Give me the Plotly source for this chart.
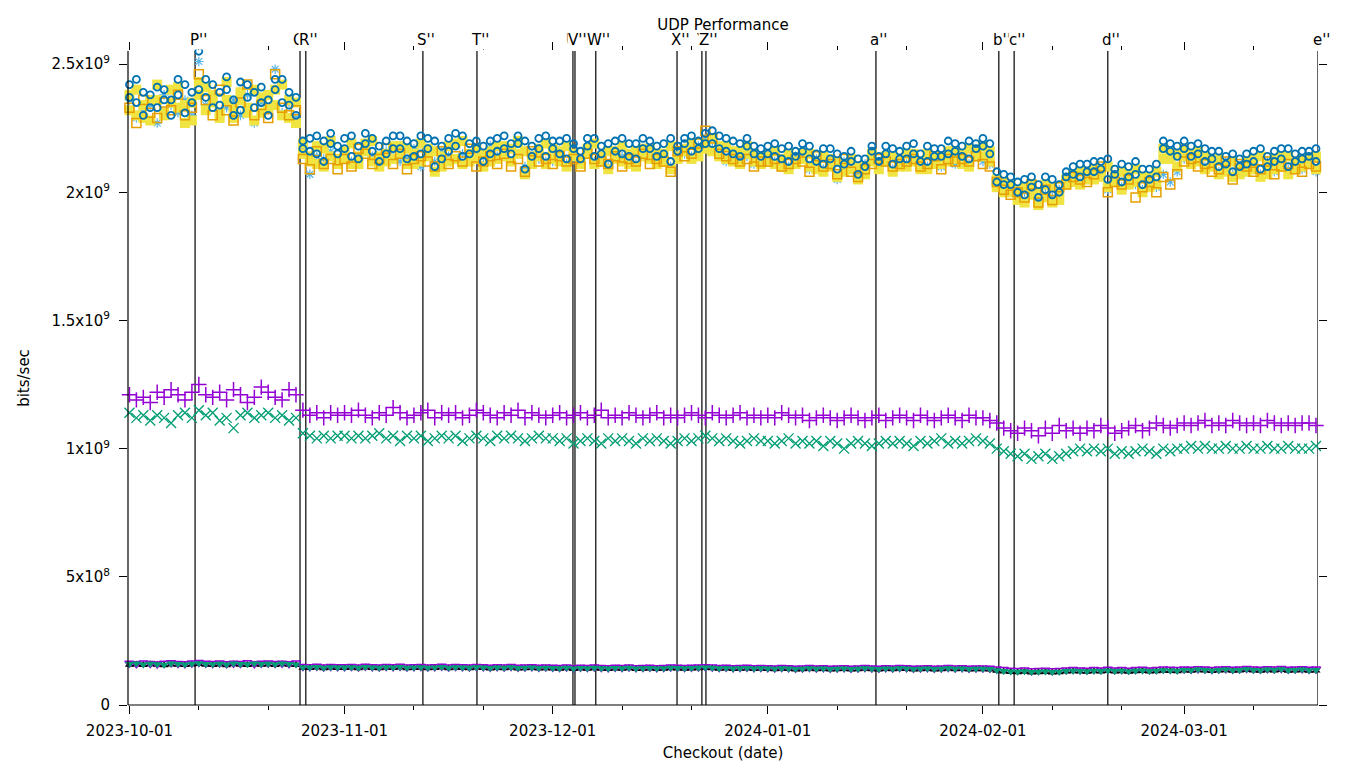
import pandas as pd
import plotly.graph_objects as go

# ---- data -------------------------------------------------------------
dates = pd.date_range("2023-10-01", "2024-03-20", freq="D")

# top cluster (units of 1e9 bits/sec)
lightblue_star = [
    2.36,2.29,2.32,2.34,2.27,2.38,2.34,2.31,2.36,2.30,2.51,2.34,2.37,2.31,2.33,2.36,2.30,2.38,2.27,2.35,2.32,2.48,2.31,2.35,2.29,2.17,2.07,2.14,2.13,2.16,2.12,
    2.15,2.12,2.13,2.17,2.14,2.11,2.16,2.14,2.12,2.13,2.17,2.10,2.15,2.12,2.16,2.14,2.13,2.15,2.12,2.14,2.11,2.18,2.14,2.16,2.12,2.20,2.10,2.15,2.13,2.12,
    2.12,2.15,2.11,2.14,2.13,2.16,2.12,2.13,2.10,2.15,2.14,2.12,2.11,2.16,2.14,2.12,2.14,2.10,2.15,2.15,2.14,2.18,2.21,2.17,2.16,2.12,2.15,2.13,2.14,2.11,2.13,
    2.13,2.12,2.11,2.10,2.14,2.13,2.09,2.13,2.09,2.12,2.05,2.12,2.10,2.07,2.11,2.13,2.12,2.13,2.09,2.12,2.11,2.14,2.11,2.10,2.12,2.10,2.14,2.11,2.14,2.11,2.15,
    2.12,2.11,2.03,2.03,2.01,1.98,2.00,2.01,1.97,2.02,1.98,2.01,2.04,2.05,2.04,2.06,2.06,2.08,2.01,2.05,2.02,2.06,2.03,2.01,2.05,2.02,2.07,2.04,2.08,
    2.13,2.12,2.13,2.10,2.11,2.08,2.12,2.07,2.10,2.09,2.11,2.07,2.12,2.08,2.11,2.09,2.10,2.09,2.12,2.08,
]
orange_square = [
    2.33,2.27,2.36,2.31,2.29,2.35,2.32,2.38,2.30,2.33,2.46,2.36,2.30,2.40,2.32,2.28,2.35,2.42,2.30,2.34,2.29,2.46,2.33,2.30,2.32,2.13,2.09,2.16,2.11,2.13,2.09,
    2.13,2.10,2.17,2.15,2.11,2.13,2.17,2.11,2.15,2.09,2.13,2.14,2.12,2.10,2.16,2.11,2.14,2.12,2.17,2.10,2.12,2.14,2.11,2.15,2.10,2.13,2.08,2.16,2.12,2.13,
    2.11,2.14,2.12,2.13,2.10,2.15,2.13,2.12,2.11,2.14,2.10,2.13,2.12,2.15,2.11,2.13,2.12,2.08,2.16,2.14,2.15,2.19,2.24,2.21,2.15,2.14,2.13,2.12,2.13,2.10,2.12,
    2.12,2.13,2.10,2.11,2.13,2.12,2.08,2.14,2.10,2.11,2.07,2.13,2.08,2.06,2.09,2.11,2.13,2.12,2.10,2.11,2.12,2.13,2.10,2.11,2.14,2.09,2.13,2.12,2.13,2.12,2.14,
    2.11,2.10,2.04,2.01,1.99,2.00,1.98,2.03,1.96,2.01,1.97,2.02,2.03,2.06,2.05,2.04,2.07,2.10,2.00,2.04,2.03,2.05,1.98,2.02,2.04,2.00,2.06,2.03,2.07,
    2.12,2.13,2.10,2.11,2.08,2.09,2.12,2.05,2.11,2.10,2.08,2.09,2.12,2.07,2.10,2.11,2.09,2.08,2.11,2.10,
]
yellow_square = [
    2.38,2.30,2.34,2.28,2.36,2.31,2.40,2.33,2.27,2.35,2.43,2.32,2.38,2.29,2.36,2.33,2.39,2.31,2.28,2.37,2.33,2.40,2.30,2.36,2.27,2.15,2.12,2.18,2.10,2.14,2.11,
    2.16,2.11,2.14,2.19,2.12,2.10,2.15,2.13,2.18,2.11,2.15,2.12,2.17,2.08,2.14,2.12,2.19,2.11,2.15,2.13,2.10,2.16,2.13,2.18,2.12,2.15,2.07,2.14,2.17,2.11,
    2.13,2.16,2.10,2.15,2.12,2.17,2.11,2.14,2.09,2.16,2.12,2.15,2.10,2.17,2.13,2.11,2.15,2.09,2.14,2.17,2.13,2.17,2.19,2.16,2.18,2.13,2.16,2.11,2.15,2.12,2.14,
    2.14,2.11,2.13,2.09,2.12,2.15,2.10,2.12,2.08,2.13,2.06,2.11,2.09,2.05,2.10,2.12,2.11,2.14,2.08,2.13,2.10,2.15,2.12,2.09,2.13,2.11,2.16,2.13,2.15,2.10,2.16,
    2.14,2.12,2.02,2.04,2.00,1.97,2.02,1.99,1.95,2.03,1.96,2.00,2.05,2.07,2.03,2.08,2.05,2.09,2.02,2.06,2.01,2.07,2.04,2.00,2.06,2.03,2.13,2.15,2.10,
    2.14,2.11,2.16,2.09,2.13,2.07,2.11,2.06,2.10,2.08,2.13,2.06,2.11,2.09,2.14,2.07,2.12,2.10,2.13,2.09,
]
yellow_square_run2 = [
    2.32,2.40,2.29,2.36,2.42,2.30,2.35,2.41,2.34,2.28,2.38,2.41,2.35,2.31,2.43,2.29,2.36,2.33,2.40,2.31,2.38,2.34,2.42,2.29,2.35,2.19,2.14,2.11,2.17,2.20,2.13,
    2.13,2.19,2.11,2.16,2.20,2.14,2.12,2.18,2.15,2.17,2.11,2.19,2.14,2.16,2.10,2.18,2.13,2.20,2.12,2.17,2.15,2.12,2.18,2.14,2.17,2.20,2.16,2.11,2.14,2.19,
    2.17,2.12,2.18,2.14,2.11,2.15,2.19,2.12,2.16,2.13,2.18,2.11,2.16,2.14,2.17,2.15,2.12,2.18,2.13,2.16,2.19,2.14,2.17,2.21,2.14,2.18,2.12,2.16,2.18,2.15,2.11,
    2.12,2.16,2.10,2.15,2.11,2.13,2.15,2.09,2.14,2.10,2.12,2.08,2.13,2.10,2.07,2.15,2.09,2.12,2.14,2.10,2.15,2.12,2.09,2.15,2.11,2.14,2.12,2.16,2.11,2.17,2.14,
    2.18,2.16,2.05,2.00,2.03,2.01,1.96,2.03,2.00,1.98,2.02,1.97,2.03,2.04,2.08,2.05,2.09,2.06,2.10,2.04,2.08,2.03,2.09,2.06,2.02,2.08,2.17,2.13,2.15,
    2.17,2.15,2.12,2.14,2.10,2.13,2.08,2.12,2.07,2.12,2.09,2.14,2.07,2.13,2.10,2.14,2.09,2.13,2.11,2.14,
]
blue_circle = [
    2.42,2.35,2.30,2.38,2.33,2.40,2.36,2.44,2.31,2.39,2.55,2.37,2.42,2.34,2.40,2.30,2.43,2.37,2.33,2.41,2.36,2.44,2.35,2.39,2.30,2.20,2.16,2.22,2.12,2.19,2.15,
    2.21,2.14,2.18,2.23,2.16,2.12,2.20,2.17,2.22,2.13,2.19,2.15,2.21,2.10,2.18,2.16,2.23,2.14,2.19,2.17,2.12,2.20,2.16,2.22,2.15,2.19,2.09,2.18,2.21,2.14,
    2.17,2.20,2.13,2.19,2.16,2.21,2.14,2.18,2.11,2.20,2.15,2.19,2.13,2.21,2.17,2.14,2.19,2.12,2.18,2.21,2.16,2.20,2.23,2.19,2.22,2.16,2.20,2.14,2.18,2.15,2.17,
    2.18,2.14,2.17,2.12,2.16,2.19,2.13,2.15,2.11,2.17,2.09,2.14,2.12,2.07,2.13,2.16,2.14,2.18,2.11,2.16,2.13,2.19,2.15,2.12,2.17,2.14,2.20,2.16,2.18,2.13,2.19,
    2.18,2.15,2.04,2.07,2.03,2.00,2.05,2.02,1.98,2.06,1.99,2.03,2.08,2.10,2.06,2.11,2.08,2.12,2.05,2.09,2.04,2.10,2.07,2.03,2.09,2.06,2.17,2.19,2.14,
    2.17,2.14,2.19,2.12,2.16,2.10,2.14,2.08,2.13,2.11,2.16,2.09,2.14,2.12,2.17,2.10,2.15,2.13,2.16,2.12,
]
blue_circle_run2 = [
    2.37,2.44,2.39,2.33,2.41,2.36,2.30,2.38,2.42,2.35,2.40,2.44,2.33,2.39,2.45,2.36,2.32,2.42,2.39,2.35,2.30,2.40,2.44,2.34,2.37,2.17,2.21,2.15,2.20,2.23,2.18,
    2.17,2.22,2.13,2.19,2.21,2.18,2.15,2.22,2.17,2.20,2.14,2.22,2.17,2.20,2.13,2.21,2.18,2.22,2.15,2.20,2.18,2.15,2.21,2.17,2.19,2.22,2.20,2.14,2.17,2.22,
    2.20,2.15,2.21,2.17,2.13,2.18,2.21,2.15,2.19,2.16,2.21,2.14,2.19,2.17,2.20,2.18,2.15,2.21,2.16,2.19,2.22,2.17,2.19,2.24,2.17,2.21,2.15,2.19,2.21,2.18,2.14,
    2.15,2.19,2.13,2.18,2.14,2.16,2.18,2.12,2.17,2.13,2.15,2.11,2.16,2.13,2.10,2.18,2.12,2.15,2.17,2.13,2.18,2.15,2.12,2.18,2.14,2.17,2.15,2.19,2.14,2.20,2.17,
    2.21,2.19,2.08,2.03,2.06,2.04,1.99,2.06,2.03,2.01,2.05,2.00,2.06,2.07,2.11,2.08,2.12,2.09,2.13,2.07,2.11,2.06,2.12,2.09,2.05,2.11,2.20,2.16,2.18,
    2.20,2.18,2.15,2.17,2.13,2.16,2.11,2.15,2.10,2.15,2.12,2.17,2.10,2.16,2.13,2.17,2.12,2.16,2.14,2.17,
]

# middle band (units of 1e9 bits/sec)
purple_plus = [
    1.21,1.19,1.20,1.18,1.22,1.20,1.23,1.21,1.19,1.22,1.25,1.21,1.20,1.22,1.19,1.23,1.21,1.18,1.20,1.24,1.22,1.20,1.19,1.23,1.21,1.15,1.13,1.14,1.12,1.14,1.13,
    1.14,1.13,1.15,1.13,1.12,1.14,1.13,1.16,1.14,1.12,1.13,1.14,1.15,1.12,1.14,1.13,1.14,1.12,1.13,1.15,1.14,1.13,1.12,1.14,1.13,1.15,1.12,1.14,1.13,1.12,
    1.13,1.14,1.12,1.13,1.14,1.12,1.13,1.15,1.12,1.13,1.12,1.14,1.13,1.12,1.13,1.14,1.12,1.13,1.12,1.13,1.14,1.13,1.12,1.14,1.13,1.12,1.13,1.14,1.12,1.13,1.12,
    1.13,1.12,1.14,1.13,1.12,1.13,1.11,1.12,1.13,1.12,1.11,1.12,1.13,1.12,1.11,1.12,1.13,1.11,1.12,1.13,1.12,1.11,1.13,1.12,1.11,1.12,1.13,1.12,1.11,1.13,1.12,
    1.12,1.11,1.10,1.08,1.07,1.06,1.08,1.07,1.05,1.08,1.06,1.09,1.07,1.08,1.06,1.08,1.07,1.09,1.08,1.06,1.07,1.08,1.09,1.07,1.08,1.10,1.09,1.08,1.09,
    1.10,1.09,1.10,1.11,1.09,1.10,1.09,1.11,1.10,1.09,1.10,1.09,1.11,1.10,1.09,1.10,1.09,1.10,1.10,1.09,
]
green_x = [
    1.14,1.12,1.13,1.11,1.13,1.12,1.10,1.13,1.14,1.12,1.15,1.13,1.14,1.11,1.12,1.08,1.13,1.14,1.12,1.13,1.14,1.12,1.13,1.11,1.12,1.06,1.05,1.04,1.05,1.04,1.05,
    1.05,1.04,1.05,1.04,1.05,1.06,1.04,1.05,1.03,1.05,1.04,1.05,1.03,1.04,1.05,1.04,1.05,1.03,1.04,1.05,1.04,1.03,1.05,1.04,1.05,1.04,1.03,1.04,1.05,1.04,
    1.04,1.03,1.04,1.02,1.03,1.04,1.03,1.02,1.04,1.03,1.04,1.03,1.02,1.04,1.03,1.04,1.03,1.02,1.03,1.04,1.03,1.04,1.05,1.04,1.03,1.04,1.03,1.02,1.03,1.04,1.03,
    1.03,1.02,1.03,1.04,1.02,1.03,1.02,1.03,1.01,1.03,1.02,1.00,1.02,1.03,1.02,1.01,1.02,1.03,1.02,1.03,1.02,1.01,1.03,1.02,1.03,1.04,1.02,1.03,1.02,1.03,1.04,
    1.03,1.02,1.00,0.99,0.98,0.97,0.98,0.96,0.97,0.98,0.96,0.97,0.98,0.99,1.00,0.99,1.00,0.99,1.00,0.98,0.99,0.98,0.99,1.00,0.99,0.98,1.00,0.99,1.00,
    1.00,1.01,1.00,1.01,1.00,1.00,1.01,1.00,1.00,1.01,1.00,1.00,1.01,1.00,1.00,1.01,1.00,1.00,1.00,1.01,
]

# bottom band (units of 1e8 bits/sec)
black_low = [
    1.57,1.58,1.56,1.59,1.57,1.55,1.58,1.57,1.56,1.58,1.60,1.57,1.56,1.58,1.55,1.59,1.57,1.56,1.58,1.57,1.58,1.56,1.59,1.57,1.56,1.45,1.44,1.46,1.43,1.45,1.44,
    1.44,1.45,1.43,1.46,1.44,1.43,1.45,1.44,1.46,1.43,1.44,1.45,1.43,1.44,1.46,1.43,1.45,1.44,1.43,1.45,1.44,1.42,1.44,1.43,1.45,1.42,1.43,1.44,1.42,1.43,
    1.42,1.41,1.43,1.40,1.42,1.41,1.43,1.41,1.40,1.42,1.41,1.43,1.40,1.41,1.42,1.40,1.41,1.43,1.42,1.41,1.42,1.43,1.44,1.43,1.41,1.42,1.40,1.41,1.42,1.40,1.41,
    1.40,1.39,1.41,1.40,1.38,1.39,1.41,1.39,1.40,1.38,1.39,1.40,1.38,1.39,1.41,1.39,1.38,1.40,1.39,1.41,1.40,1.38,1.39,1.40,1.38,1.39,1.41,1.39,1.40,1.38,1.39,
    1.39,1.38,1.34,1.31,1.29,1.28,1.30,1.27,1.28,1.29,1.27,1.28,1.31,1.32,1.31,1.30,1.32,1.31,1.33,1.31,1.32,1.30,1.32,1.33,1.31,1.32,1.34,1.33,1.32,
    1.35,1.34,1.36,1.35,1.33,1.35,1.36,1.34,1.35,1.37,1.35,1.34,1.36,1.35,1.37,1.34,1.35,1.36,1.34,1.35,
]
purple_low = [
    1.63,1.61,1.64,1.62,1.60,1.63,1.65,1.62,1.61,1.64,1.66,1.63,1.62,1.64,1.61,1.63,1.62,1.65,1.61,1.63,1.64,1.62,1.63,1.61,1.64,1.50,1.49,1.51,1.48,1.50,1.49,
    1.49,1.50,1.48,1.51,1.49,1.48,1.50,1.49,1.51,1.48,1.49,1.50,1.48,1.49,1.51,1.48,1.50,1.49,1.48,1.50,1.49,1.47,1.49,1.48,1.50,1.47,1.48,1.49,1.47,1.48,
    1.47,1.46,1.48,1.45,1.47,1.46,1.48,1.46,1.45,1.47,1.46,1.48,1.45,1.46,1.47,1.45,1.46,1.48,1.47,1.46,1.47,1.48,1.49,1.48,1.46,1.47,1.45,1.46,1.47,1.45,1.46,
    1.45,1.44,1.46,1.45,1.43,1.44,1.46,1.44,1.45,1.43,1.44,1.45,1.43,1.44,1.46,1.44,1.43,1.45,1.44,1.46,1.45,1.43,1.44,1.45,1.43,1.44,1.46,1.44,1.45,1.43,1.44,
    1.44,1.43,1.40,1.38,1.36,1.35,1.37,1.34,1.35,1.36,1.34,1.35,1.37,1.38,1.37,1.36,1.38,1.37,1.39,1.37,1.38,1.36,1.38,1.39,1.37,1.38,1.40,1.39,1.38,
    1.40,1.39,1.41,1.40,1.38,1.40,1.41,1.39,1.40,1.42,1.40,1.39,1.41,1.40,1.42,1.39,1.40,1.41,1.39,1.40,
]
green_low = [
    1.60,1.62,1.58,1.61,1.59,1.57,1.62,1.60,1.58,1.61,1.63,1.60,1.59,1.61,1.58,1.62,1.60,1.59,1.62,1.60,1.61,1.59,1.62,1.60,1.58,1.47,1.46,1.48,1.45,1.47,1.46,
    1.46,1.47,1.45,1.48,1.46,1.45,1.47,1.46,1.48,1.45,1.46,1.47,1.45,1.46,1.48,1.45,1.47,1.46,1.45,1.47,1.46,1.44,1.46,1.45,1.47,1.44,1.45,1.46,1.44,1.45,
    1.44,1.43,1.45,1.42,1.44,1.43,1.45,1.43,1.42,1.44,1.43,1.45,1.42,1.43,1.44,1.42,1.43,1.45,1.44,1.43,1.44,1.45,1.46,1.45,1.43,1.44,1.42,1.43,1.44,1.42,1.43,
    1.42,1.41,1.43,1.42,1.40,1.41,1.43,1.41,1.42,1.40,1.41,1.42,1.40,1.41,1.43,1.41,1.40,1.42,1.41,1.43,1.42,1.40,1.41,1.42,1.40,1.41,1.43,1.41,1.42,1.40,1.41,
    1.41,1.40,1.36,1.33,1.31,1.30,1.32,1.29,1.30,1.31,1.29,1.30,1.33,1.34,1.33,1.32,1.34,1.33,1.35,1.33,1.34,1.32,1.34,1.35,1.33,1.34,1.36,1.35,1.34,
    1.37,1.36,1.38,1.37,1.35,1.37,1.38,1.36,1.37,1.39,1.37,1.36,1.38,1.37,1.39,1.36,1.37,1.38,1.36,1.37,
]

# event markers
event_labels = ["P''", "Q''", "R''", "S''", "T''", "U''", "V''", "W''", "X''", "Y''", "Z''",
                "a''", "b''", "c''", "d''", "e''"]
event_dates = ["2023-10-10 11:00", "2023-10-25 14:00", "2023-10-26 10:00", "2023-11-12 07:00",
               "2023-11-20 02:00", "2023-12-03 22:00", "2023-12-04 05:00", "2023-12-07 05:00",
               "2023-12-18 22:00", "2023-12-22 12:00", "2023-12-23 02:00", "2024-01-16 14:00",
               "2024-02-03 07:00", "2024-02-05 12:00", "2024-02-19 00:00", "2024-03-20 07:00"]

y_tick_vals = [0, 5e8, 1e9, 1.5e9, 2e9, 2.5e9]
y_tick_text = ["0", "5x10<sup>8</sup>", "1x10<sup>9</sup>", "1.5x10<sup>9</sup>",
               "2x10<sup>9</sup>", "2.5x10<sup>9</sup>"]
x_tick_vals = ["2023-10-01", "2023-11-01", "2023-12-01", "2024-01-01", "2024-02-01", "2024-03-01"]
x_minor_vals = ["2023-10-11", "2023-10-21", "2023-11-11", "2023-11-21", "2023-12-11", "2023-12-21",
                "2024-01-11", "2024-01-21", "2024-02-11", "2024-02-21", "2024-03-11"]

# ---- figure -----------------------------------------------------------
FONT = "DejaVu Sans"
fig = go.Figure()

def add(vals, scale, color, symbol, size, lw=1.2):
    fig.add_trace(go.Scatter(
        x=dates, y=[v * scale for v in vals], mode="markers",
        marker=dict(symbol=symbol, size=size, color=color,
                    line=dict(color=color, width=lw)),
        showlegend=False, cliponaxis=False))

add(purple_plus, 1e9, "#9400D3", "cross-thin-open", 11, 1.5)
add(green_x, 1e9, "#009E73", "x-thin-open", 10, 1.3)
add(lightblue_star, 1e9, "#56B4E9", "asterisk-open", 8, 1.2)
add(yellow_square, 1e9, "#F0E442", "square", 10, 0)
add(yellow_square_run2, 1e9, "#F0E442", "square", 10, 0)
add(orange_square, 1e9, "#E69F00", "square-open", 9, 1.5)
add(blue_circle, 1e9, "#0072B2", "circle-open", 7, 1.8)
add(blue_circle_run2, 1e9, "#0072B2", "circle-open", 7, 1.8)
add(black_low, 1e8, "#000000", "triangle-up", 8, 0)
add(purple_low, 1e8, "#9400D3", "triangle-down-open", 8, 1.5)
add(green_low, 1e8, "#009E73", "triangle-down", 8, 0)

for lab, d in zip(event_labels, event_dates):
    fig.add_shape(type="line", xref="x", yref="paper", x0=d, x1=d, y0=0, y1=1,
                  line=dict(color="black", width=1.2), layer="below")
    fig.add_annotation(x=d, y=1, xref="x", yref="paper", text=lab, showarrow=False,
                       xanchor="center", yanchor="bottom", yshift=1, xshift=3,
                       bgcolor="white", borderpad=0,
                       font=dict(family=FONT, size=15, color="black"))

# border: left and bottom only
fig.add_shape(type="line", xref="paper", yref="paper", x0=0, x1=0, y0=0, y1=1,
              line=dict(color="black", width=1.2))
fig.add_shape(type="line", xref="paper", yref="paper", x0=0, x1=1, y0=0, y1=0,
              line=dict(color="black", width=1.2))

# the page body adds an 8px offset; plot area sits at 128..1318 x 51..705 on screen
fig.update_layout(
    width=1360, height=768,
    margin=dict(l=120, r=50, t=43, b=71, autoexpand=False),
    paper_bgcolor="white", plot_bgcolor="white",
    font=dict(family=FONT, size=15, color="black"),
    title=dict(text="UDP Performance", x=0.5, xref="paper", xanchor="center",
               y=1 - 17 / 768, yanchor="middle", font=dict(family=FONT, size=15)),
    xaxis=dict(
        type="date", range=["2023-09-30 19:00", "2024-03-20 07:00"],
        tickvals=x_tick_vals, tickformat="%Y-%m-%d", automargin=False,
        ticks="outside", ticklen=8, tickwidth=1, tickcolor="black",
        ticklabelstandoff=4,
        mirror="ticks", showline=False, showgrid=False, zeroline=False,
        minor=dict(tickvals=x_minor_vals, ticks="outside", ticklen=4, tickwidth=1,
                   tickcolor="black", showgrid=False),
        title=dict(text="Checkout (date)", standoff=8, font=dict(family=FONT, size=15)),
        tickfont=dict(family=FONT, size=15),
    ),
    yaxis=dict(
        range=[0, 2.551e9], tickvals=y_tick_vals, ticktext=y_tick_text, automargin=False,
        ticks="outside", ticklen=8, tickwidth=1, tickcolor="black",
        ticklabelstandoff=6,
        mirror="ticks", showline=False, showgrid=False, zeroline=False,
        title=dict(text="bits/sec", standoff=18, font=dict(family=FONT, size=15)),
        tickfont=dict(family=FONT, size=15),
    ),
)

fig.write_html("out.html")
